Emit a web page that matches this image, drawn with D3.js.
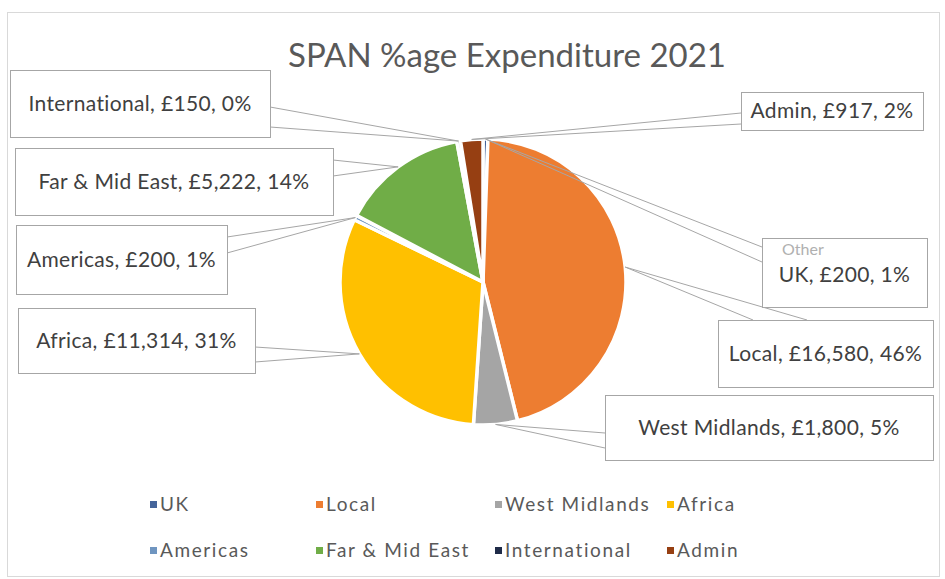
<!DOCTYPE html>
<html>
<head>
<meta charset="utf-8">
<script src="https://cdn.jsdelivr.net/npm/d3@7"></script>
<style>
  html, body { margin: 0; padding: 0; background: #fff; }
  svg text { font-family: Lato, "Open Sans", sans-serif; }
</style>
</head>
<body>
<svg id="chart" width="945" height="579"></svg>
<script>
// ---- data ----
const title = "SPAN %age Expenditure 2021";
const categories = ["UK", "Local", "West Midlands", "Africa", "Americas", "Far & Mid East", "International", "Admin"];
const values = [200, 16580, 1800, 11314, 200, 5222, 150, 917];
const percentLabels = ["1%", "46%", "5%", "31%", "1%", "14%", "0%", "2%"];
const colors = ["#44649a", "#ED7D31", "#A5A5A5", "#FFC000", "#6f95c0", "#70AD47", "#1f2b48", "#963f12"];
const legendOrder = [["UK", "Local", "West Midlands", "Africa"], ["Americas", "Far & Mid East", "International", "Admin"]];

// ---- layout (positions only) ----
const W = 945, H = 579;
const cx = 483, cy = 282, R = 143;
// callout boxes: [x, y, w, h], base points of the wedge on the box
const calloutLayout = {
  "UK":             { box: [762, 238, 165, 69], base: [[762, 247], [762, 262]], dy: 2 },
  "Local":          { box: [718, 320, 215, 67], base: [[753, 320], [807, 320]] },
  "West Midlands":  { box: [605, 395, 328, 65], base: [[605, 433], [605, 448]] },
  "Africa":         { box: [18, 308, 237, 65],  base: [[255, 347], [255, 362]] },
  "Americas":       { box: [16, 225, 211, 69],  base: [[227, 237], [227, 253]] },
  "Far & Mid East": { box: [15, 148, 318, 67],  base: [[333, 160], [333, 176]] },
  "International":  { box: [10, 70, 260, 67],   base: [[270, 107], [270, 127]] },
  "Admin":          { box: [741, 92, 182, 38],  base: [[741, 113], [741, 124]] }
};

const svg = d3.select("#chart");

// outer chart border
svg.append("rect").attr("x", 7.5).attr("y", 12.5).attr("width", 932).attr("height", 564)
  .attr("fill", "#fff").attr("stroke", "#d9d9d9").attr("stroke-width", 1);

// title
svg.append("text").attr("x", 507).attr("y", 67).attr("text-anchor", "middle")
  .attr("font-size", 33).attr("fill", "#595959").text(title);

const data = categories.map((c, i) => ({ name: c, value: values[i], pct: percentLabels[i], color: colors[i] }));
const color = d3.scaleOrdinal().domain(categories).range(colors);

const pie = d3.pie().value(d => d.value).sort(null).startAngle(0).endAngle(2 * Math.PI);
const arcs = pie(data);
const arc = d3.arc().innerRadius(0).outerRadius(R);
const edgeArc = d3.arc().innerRadius(R).outerRadius(R);

const g = svg.append("g").attr("transform", `translate(${cx},${cy})`);
g.selectAll("path.slice").data(arcs).join("path")
  .attr("class", "slice")
  .attr("d", arc)
  .attr("fill", d => color(d.data.name))
  .attr("stroke", "#fff").attr("stroke-width", 3.5).attr("stroke-linejoin", "round");

// callouts
const fmt = d3.format(",");
const cg = svg.append("g");
arcs.forEach(d => {
  const L = calloutLayout[d.data.name];
  const c = edgeArc.centroid(d);
  const tip = [cx + c[0], cy + c[1]];
  L.base.forEach(b => {
    cg.append("line").attr("x1", b[0]).attr("y1", b[1]).attr("x2", tip[0]).attr("y2", tip[1])
      .attr("stroke", "#a6a6a6").attr("stroke-width", 1);
  });
});
arcs.forEach(d => {
  const L = calloutLayout[d.data.name];
  const [bx, by, bw, bh] = L.box;
  cg.append("rect").attr("x", bx + 0.5).attr("y", by + 0.5).attr("width", bw).attr("height", bh)
    .attr("fill", "#fff").attr("stroke", "#a6a6a6").attr("stroke-width", 1);
  cg.append("text").attr("x", bx + bw / 2).attr("y", by + bh / 2 + 7 + (L.dy || 0))
    .attr("text-anchor", "middle").attr("font-size", 21).attr("letter-spacing", 0.35)
    .attr("fill", "#404040")
    .text(`${d.data.name}, £${fmt(d.data.value)}, ${d.data.pct}`);
});
// stray "Other" text seen above the UK label
const ukBox = calloutLayout["UK"].box;
svg.append("text").attr("x", ukBox[0] + 20).attr("y", ukBox[1] + 17)
  .attr("font-size", 16).attr("font-family", "Liberation Sans, Arial, sans-serif")
  .attr("fill", "#b0b0b0").text("Other");

// legend
const colX = [150, 316, 495, 667];
const rowY = [511, 557];
legendOrder.forEach((row, ri) => {
  row.forEach((name, ci) => {
    const lg = svg.append("g").attr("transform", `translate(${colX[ci]},${rowY[ri]})`);
    lg.append("rect").attr("x", 0).attr("y", -10).attr("width", 7).attr("height", 7).attr("fill", color(name));
    lg.append("text").attr("x", 10).attr("y", 0).attr("font-size", 19).attr("letter-spacing", 1.6)
      .attr("fill", "#595959").text(name);
  });
});
</script>
</body>
</html>
